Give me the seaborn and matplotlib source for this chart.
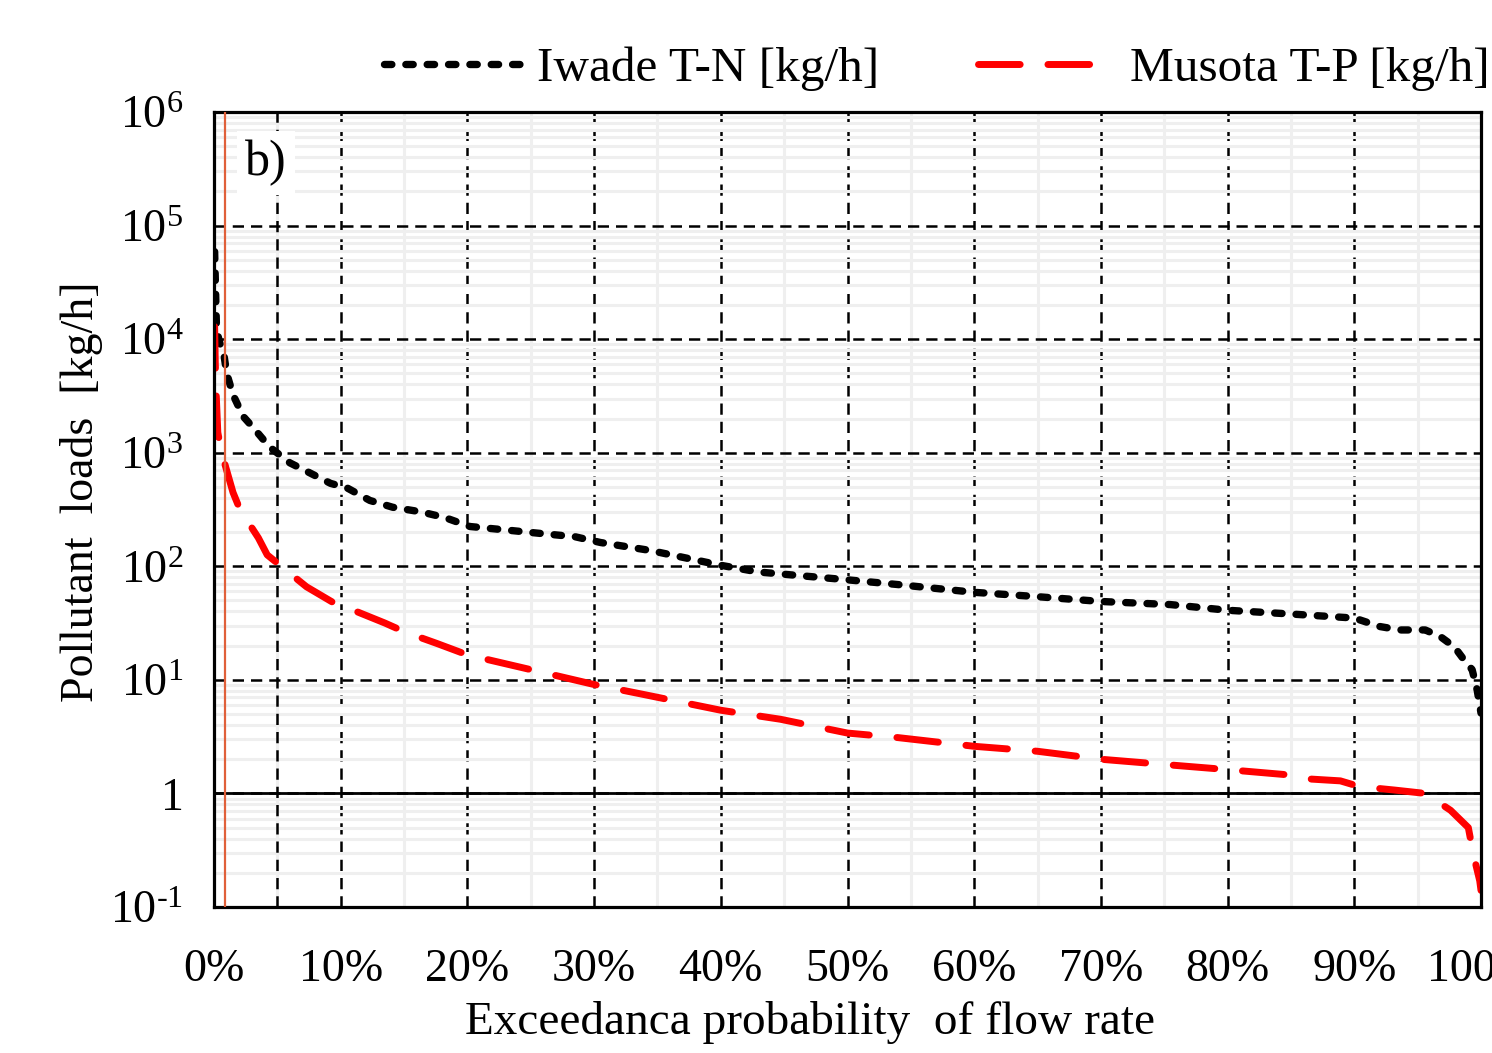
import matplotlib
matplotlib.use("Agg")
import matplotlib.pyplot as plt
import seaborn as sns
import pandas as pd
import numpy as np
from matplotlib.ticker import FixedLocator, NullFormatter

# ---- data ----
iwade_x = [0.05, 0.2, 0.5, 0.8, 1.0, 1.5, 2.3, 3.1, 4.4, 6.0, 7.6, 9.2, 10.5, 12.3, 14.1,
           16.3, 18.2, 20.2, 23.0, 25.7, 28.5, 30.5, 34.4, 40, 43, 50, 54, 60, 65, 70,
           75.5, 80, 85, 90, 92, 93.6, 95.6, 96.8, 97.9, 98.7, 99.3, 99.7, 100]
iwade_tn = [58900, 12000, 8900, 7080, 5010, 3240, 2090, 1660, 1120, 813, 661, 537, 490, 380, 331,
            302, 269, 224, 209, 195, 182, 162, 138, 102, 89, 76, 69, 59, 54, 49,
            46, 41, 38, 35, 29.5, 27.5, 27.5, 24, 19.5, 14.8, 12.3, 8.1, 5.1]

musota_x = [0.05, 0.1, 0.15, 0.3, 0.6, 1.5, 2.05, 3.5, 4.2, 6.2, 7.3, 9.4, 11, 13.5, 15.1,
            17.6, 20, 25, 30, 34, 40, 44.7, 50, 54, 60, 65, 70, 75.5, 80, 85,
            86, 88.9, 90.4, 93.2, 95.6, 97.6, 99, 99.4, 99.9, 100]
musota_tp = [12900, 6170, 3800, 1510, 1000, 447, 316, 178, 126, 83, 66, 48, 41, 31.6, 26.3,
             20.9, 16.6, 12.3, 9.1, 7.4, 5.4, 4.5, 3.4, 3.1, 2.6, 2.35, 2.0, 1.78, 1.62, 1.45,
             1.35, 1.29, 1.15, 1.07, 1.0, 0.71, 0.50, 0.29, 0.17, 0.14]

x_ticks = [0, 10, 20, 30, 40, 50, 60, 70, 80, 90, 100]
x_labels = ["0%", "10%", "20%", "30%", "40%", "50%", "60%", "70%", "80%", "90%", "100%"]
y_ticks = [1e-1, 1, 1e1, 1e2, 1e3, 1e4, 1e5, 1e6]
y_labels = [r"$10^{\text{-}1}$", "1", r"$10^{1}$", r"$10^{2}$", r"$10^{3}$",
            r"$10^{4}$", r"$10^{5}$", r"$10^{6}$"]

label_tn = "Iwade T-N [kg/h]"
label_tp = "Musota T-P [kg/h]"

# ---- style ----
sns.set_style("white")
plt.rcParams["font.family"] = ["Liberation Serif", "DejaVu Serif"]
plt.rcParams["mathtext.fontset"] = "custom"
plt.rcParams["mathtext.rm"] = "Liberation Serif"
plt.rcParams["mathtext.default"] = "regular"
for k in ["text.color", "axes.labelcolor", "xtick.color", "ytick.color"]:
    plt.rcParams[k] = "black"

fig = plt.figure(figsize=(14.92, 10.53), dpi=100)
ax = fig.add_axes([214 / 1492, 1 - 907 / 1053, 1267 / 1492, 795 / 1053])

df_tn = pd.DataFrame({"x": iwade_x, "y": iwade_tn})
df_tp = pd.DataFrame({"x": musota_x, "y": musota_tp})

sns.lineplot(data=df_tn, x="x", y="y", ax=ax, color="black", lw=5.3, label=label_tn,
             estimator=None, sort=False, zorder=4)
l1 = ax.lines[-1]
l1.set_dashes((1.0, 1.9))
l1.set_dash_capstyle("round")

sns.lineplot(data=df_tp, x="x", y="y", ax=ax, color="#ff0000", lw=5.0, label=label_tp,
             estimator=None, sort=False, zorder=4)
l2 = ax.lines[-1]
l2.set_dashes((6.0, 4.0))
l2.set_dash_capstyle("round")

ax.set_yscale("log")
ax.set_xlim(0, 100)
ax.set_ylim(0.1, 1e6)

ax.set_xticks(x_ticks)
ax.set_xticklabels(x_labels)
ax.xaxis.set_minor_locator(FixedLocator(np.arange(5, 100, 5)))
ax.set_yticks(y_ticks)
ax.set_yticklabels(y_labels)
minor_y = [m * 10.0 ** e for e in range(-1, 6) for m in range(2, 10)]
ax.yaxis.set_minor_locator(FixedLocator(minor_y))
ax.yaxis.set_minor_formatter(NullFormatter())

ax.tick_params(axis="both", which="both", length=0, colors="black")
ax.tick_params(axis="x", which="major", labelsize=33, pad=30)
ax.tick_params(axis="y", which="major", labelsize=33, pad=22)

# grid
ax.set_axisbelow(True)
ax.grid(which="minor", color="#efefef", lw=2.2, linestyle="-", zorder=0)
ax.grid(which="major", color="black", lw=1.8, linestyle=(0, (4.5, 2.8)), zorder=1)
ax.axvline(5, color="black", lw=1.8, linestyle=(0, (4.5, 2.8)), zorder=1)
ax.axhline(1, color="black", lw=2.0, linestyle="-", zorder=2)
ax.axvline(0.87, color="#e0603a", lw=1.6, zorder=6)

for s in ax.spines.values():
    s.set_color("black")
    s.set_linewidth(2.3)
    s.set_zorder(5)

ax.set_xlabel("")
ax.set_ylabel("")
fig.text(810 / 1492, 1 - 1022 / 1053, "Exceedanca probability  of flow rate",
         fontsize=34, ha="center", va="center")
fig.text(82 / 1492, 1 - 492 / 1053, "Pollutant  loads  [kg/h]",
         fontsize=33, ha="center", va="center", rotation=90)

ax.text(0.0245, 0.965, "b)", transform=ax.transAxes, fontsize=36, ha="left", va="top",
        bbox=dict(facecolor="white", edgecolor="none", pad=6), zorder=7)

leg = ax.legend(loc="center", bbox_to_anchor=(937 / 1492, 1 - 69 / 1053),
                bbox_transform=fig.transFigure, ncol=2, frameon=False, fontsize=35.5,
                handlelength=2.75, handletextpad=0.35, columnspacing=2.0, borderaxespad=0)

fig.savefig("out.png", dpi=100)
